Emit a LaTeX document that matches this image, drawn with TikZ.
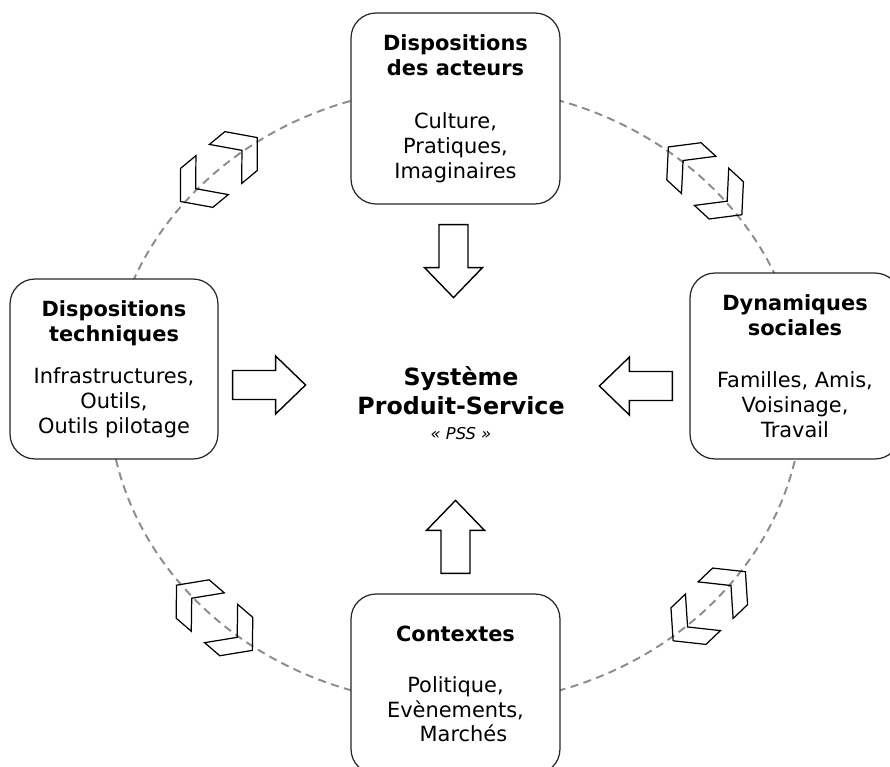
\documentclass[tikz,border=0pt]{standalone}
\usepackage{fontspec}
\setmainfont{DejaVu Sans}
\usetikzlibrary{positioning, calc}

\tikzset{
  fatarrow/.pic={
    \draw[blockarrow] (0,14.5) -- (43,14.5) -- (43,29) -- (73,0) -- (43,-29) -- (43,-14.5) -- (0,-14.5) -- cycle;
  },
  chevpair/.pic={
    \draw[chevron] (-50,0) -- (-28.8,25.3) -- (-8.8,25.3) -- (-30,0) -- (-8.8,-25.3) -- (-28.8,-25.3) -- cycle;
    \draw[chevron] (50,0) -- (28.8,25.3) -- (8.8,25.3) -- (30,0) -- (8.8,-25.3) -- (28.8,-25.3) -- cycle;
  }
}
\newcommand{\bigsf}{\fontsize{13.5}{16.4}\selectfont\bfseries}
\newcommand{\smallsf}{\fontsize{9.3}{11}\selectfont\mdseries\itshape}

\begin{document}
\begin{tikzpicture}[x=0.02cm, y=0.02cm, align=center]

\tikzstyle{sourcebox} = [rectangle, rounded corners=0.5cm, minimum width=4.18cm, draw=black!85, line width=0.7pt, fill=white, font=\fontsize{11.9}{14.2}\selectfont]
\tikzstyle{cycle} = [draw=black!45, line width=1.1pt, dash pattern=on 4.6pt off 3.1pt]
\tikzstyle{blockarrow} = [draw=black, line width=0.8pt, fill=white]
\tikzstyle{chevron} = [draw=black, line width=0.7pt]

\useasboundingbox (0,0) rectangle (890,-767);
\clip (0,0) rectangle (890,-767);

\coordinate (ctr) at (455.5,-395.5);
\draw [cycle] (ctr) ellipse [x radius=347, y radius=309];

\pic [rotate=39.7] at ($(ctr)+(133:347 and 309)$) {chevpair};
\pic [rotate=137.3] at ($(ctr)+(44:347 and 309)$) {chevpair};
\pic [rotate=139.3] at ($(ctr)+(226:347 and 309)$) {chevpair};
\pic [rotate=43.7] at ($(ctr)+(317:347 and 309)$) {chevpair};

\node (acteurs) [sourcebox, minimum height=3.82cm] at (455.5,-108.5) {\textbf{Dispositions}\\\textbf{des acteurs}\\[16pt]Culture,\\Pratiques,\\Imaginaires};
\node (techniques) [sourcebox, minimum width=4.16cm, minimum height=3.6cm] at (114,-369) {\textbf{Dispositions}\\\textbf{techniques}\\[9.6pt]Infrastructures,\\Outils,\\Outils pilotage};
\node (sociales) [sourcebox, minimum width=4.2cm, minimum height=3.72cm] at (795,-366) {\textbf{Dynamiques}\\\textbf{sociales}\\[15.5pt]Familles, Amis,\\Voisinage,\\Travail};
\node (contextes) [sourcebox, minimum height=3.6cm] at (455.5,-684) {\textbf{Contextes}\\[14.7pt]Politique,\\Evènements,\\\hspace*{9pt}Marchés};

\node (pss) at (461,-403) [font=\bigsf] {Système\\Produit-Service\\[-2pt]\smallsf « PSS »};

\pic [rotate=-90] at ($(acteurs.south)+(-2,-20)$) {fatarrow};
\pic at ($(techniques.east)+(14,-16)$) {fatarrow};
\pic [rotate=180] at ($(sociales.west)+(-17,-20)$) {fatarrow};
\pic [rotate=90] at ($(contextes.north)+(0,20)$) {fatarrow};
\end{tikzpicture}
\end{document}
